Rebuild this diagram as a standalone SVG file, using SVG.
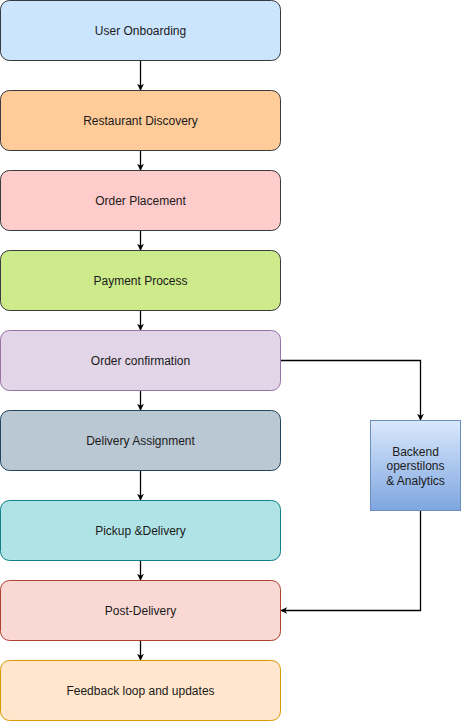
<svg xmlns="http://www.w3.org/2000/svg" width="461" height="721" viewBox="0 0 461 721">
<style>
.n{stroke-width:1}
.t{font-family:"Liberation Sans",Arial,Helvetica,sans-serif;font-size:12px;fill:#1a1a1a;text-anchor:middle;dominant-baseline:central}
.e{fill:none;stroke:#000;stroke-width:1.3}
</style>
<defs>
<marker id="a" viewBox="0 0 10 10" refX="9" refY="5" markerWidth="7" markerHeight="7" markerUnits="userSpaceOnUse" orient="auto">
<path d="M0,0 L10,5 L0,10 L3,5 Z" fill="#000"/>
</marker>
<linearGradient id="g" x1="0" y1="0" x2="0" y2="1">
<stop offset="0" stop-color="#dae8fc"/>
<stop offset="1" stop-color="#7ea6e0"/>
</linearGradient>
</defs>
<g id="connectors">
<path class="e" d="M140.5,60.5 V90" marker-end="url(#a)"/>
<path class="e" d="M140.5,150.5 V170" marker-end="url(#a)"/>
<path class="e" d="M140.5,230.5 V250" marker-end="url(#a)"/>
<path class="e" d="M140.5,310.5 V330" marker-end="url(#a)"/>
<path class="e" d="M140.5,390.5 V410" marker-end="url(#a)"/>
<path class="e" d="M140.5,470.5 V500" marker-end="url(#a)"/>
<path class="e" d="M140.5,560.5 V580" marker-end="url(#a)"/>
<path class="e" d="M140.5,640.5 V660" marker-end="url(#a)"/>
<path class="e" d="M280.5,360.5 H420.5 V420" marker-end="url(#a)"/>
<path class="e" d="M420.5,510.5 V610.5 H281" marker-end="url(#a)"/>
</g>
<g id="n1"><rect class="n" x="0.5" y="0.5" width="280" height="60" rx="9" fill="#cce5ff" stroke="#36393d"/><text class="t" x="140.5" y="30.5">User Onboarding</text></g>
<g id="n2"><rect class="n" x="0.5" y="90.5" width="280" height="60" rx="9" fill="#ffcc99" stroke="#36393d"/><text class="t" x="140.5" y="120.5">Restaurant Discovery</text></g>
<g id="n3"><rect class="n" x="0.5" y="170.5" width="280" height="60" rx="9" fill="#ffcccc" stroke="#36393d"/><text class="t" x="140.5" y="200.5">Order Placement</text></g>
<g id="n4"><rect class="n" x="0.5" y="250.5" width="280" height="60" rx="9" fill="#cdeb8b" stroke="#36393d"/><text class="t" x="140.5" y="280.5">Payment Process</text></g>
<g id="n5"><rect class="n" x="0.5" y="330.5" width="280" height="60" rx="9" fill="#e1d5e7" stroke="#9673a6"/><text class="t" x="140.5" y="360.5">Order confirmation</text></g>
<g id="n6"><rect class="n" x="0.5" y="410.5" width="280" height="60" rx="9" fill="#bac8d3" stroke="#23445d"/><text class="t" x="140.5" y="440.5">Delivery Assignment</text></g>
<g id="n7"><rect class="n" x="0.5" y="500.5" width="280" height="60" rx="9" fill="#b0e3e6" stroke="#0e8088"/><text class="t" x="140.5" y="530.5">Pickup &amp;Delivery</text></g>
<g id="n8"><rect class="n" x="0.5" y="580.5" width="280" height="60" rx="9" fill="#fad9d5" stroke="#ae4132"/><text class="t" x="140.5" y="610.5">Post-Delivery</text></g>
<g id="n9"><rect class="n" x="0.5" y="660.5" width="280" height="60" rx="9" fill="#ffe6cc" stroke="#d79b00"/><text class="t" x="140.5" y="690.5">Feedback loop and updates</text></g>
<g id="n10"><rect class="n" x="370.5" y="420.5" width="90" height="90" fill="url(#g)" stroke="#6c8ebf"/><text class="t" x="415.5" y="451.5">Backend</text><text class="t" x="415.5" y="466">operstilons</text><text class="t" x="415.5" y="480.5">&amp; Analytics</text></g>
</svg>
